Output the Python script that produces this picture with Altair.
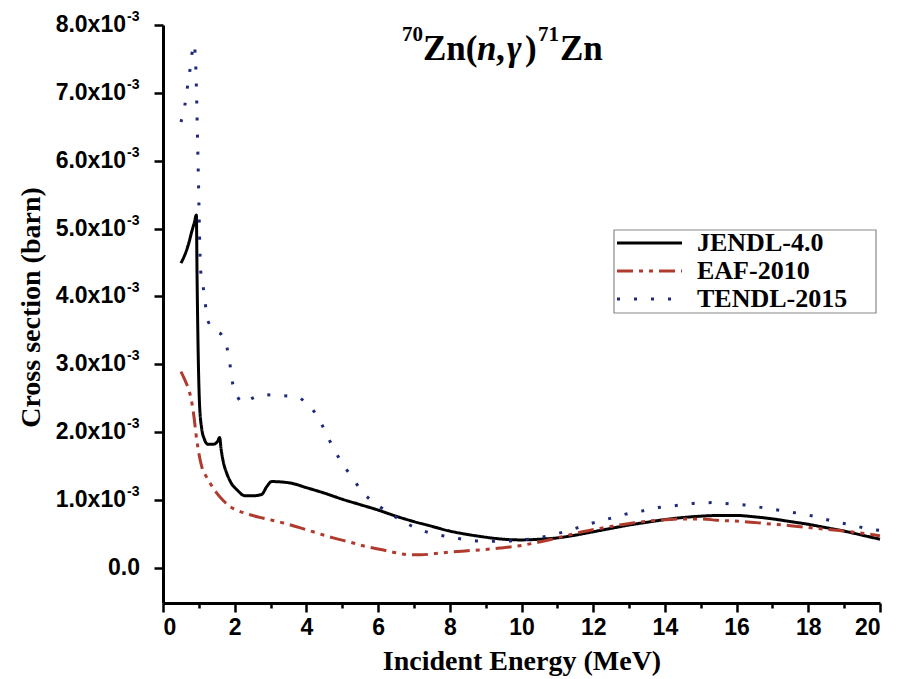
import altair as alt
import pandas as pd

# Cross section values in units of 1e-3 barn, energies in MeV
jendl_E = [0.5, 0.6, 0.7, 0.8, 0.88, 0.93, 0.95, 0.98, 1.02, 1.08, 1.15, 1.25, 1.4, 1.52, 1.58, 1.62,
           1.7, 1.78, 1.9, 2.06, 2.29, 2.5, 2.75, 2.9, 3.03, 3.54, 4.0, 4.5, 5.0, 5.5, 6.0, 6.5, 7.0,
           7.5, 8.0, 8.5, 9.0, 9.5, 10.0, 10.5, 11.0, 11.5, 12.0, 12.5, 13.0, 13.5, 14.0, 14.5, 15.0,
           15.5, 16.0, 16.5, 17.0, 17.5, 18.0, 18.5, 19.0, 19.5, 20.0]
jendl_s = [4.49, 4.6, 4.75, 4.95, 5.1, 5.2, 4.3, 3.2, 2.4, 2.05, 1.9, 1.82, 1.82, 1.86, 1.92, 1.75,
           1.52, 1.39, 1.25, 1.15, 1.06, 1.06, 1.08, 1.2, 1.27, 1.25, 1.18, 1.10, 1.01, 0.93, 0.85,
           0.76, 0.68, 0.61, 0.54, 0.49, 0.45, 0.42, 0.41, 0.42, 0.44, 0.48, 0.53, 0.58, 0.63, 0.67,
           0.71, 0.74, 0.76, 0.77, 0.77, 0.75, 0.72, 0.68, 0.64, 0.59, 0.54, 0.48, 0.42]

eaf_E = [0.5, 0.6, 0.7, 0.78, 0.85, 0.94, 1.08, 1.2, 1.31, 1.5, 1.7, 1.87, 2.1, 2.43, 2.8, 3.36, 4.0,
         4.75, 5.2, 5.68, 6.15, 6.5, 6.9, 7.2, 7.6, 8.0, 8.5, 9.0, 9.4, 9.9, 10.5, 11.0, 11.7, 12.4,
         13.1, 13.8, 14.5, 15.0, 15.45, 16.2, 16.84, 17.5, 18.23, 19.0, 19.63, 20.0]
eaf_s = [2.89, 2.78, 2.65, 2.5, 2.28, 1.89, 1.49, 1.35, 1.25, 1.1, 0.98, 0.9, 0.84, 0.78, 0.73, 0.66,
         0.56, 0.44, 0.38, 0.31, 0.26, 0.22, 0.19, 0.19, 0.21, 0.23, 0.25, 0.27, 0.29, 0.32, 0.38,
         0.44, 0.53, 0.6, 0.66, 0.70, 0.72, 0.72, 0.70, 0.68, 0.65, 0.62, 0.58, 0.54, 0.50, 0.47]

tendl_E = [0.5, 0.61, 0.68, 0.75, 0.83, 0.87, 0.9, 0.92, 0.94, 0.97, 1.0, 1.02, 1.05, 1.12, 1.26,
           1.45, 1.64, 1.82, 1.96, 2.1, 2.24, 2.5, 2.75, 3.2, 3.73, 3.95, 4.15, 4.43, 4.66, 4.94,
           5.26, 5.63, 6.1, 6.61, 7.08, 7.54, 8.05, 8.5, 9.03, 9.5, 10.0, 10.47, 10.98, 11.45,
           11.93, 12.42, 12.9, 13.4, 13.86, 14.36, 14.84, 15.32, 15.82, 16.3, 16.79, 17.27, 17.75,
           18.23, 18.72, 19.21, 19.69, 20.0]
tendl_s = [6.57, 6.82, 7.08, 7.33, 7.65, 7.72, 7.55, 7.3, 6.89, 6.16, 5.42, 4.88, 4.39, 4.14, 3.63,
           3.5, 3.43, 3.16, 2.67, 2.5, 2.43, 2.5, 2.55, 2.54, 2.52, 2.45, 2.35, 2.11, 1.86, 1.59,
           1.34, 1.08, 0.88, 0.71, 0.58, 0.50, 0.45, 0.41, 0.39, 0.39, 0.41, 0.44, 0.50, 0.57,
           0.65, 0.72, 0.79, 0.84, 0.89, 0.92, 0.95, 0.96, 0.94, 0.92, 0.88, 0.84, 0.80, 0.75,
           0.68, 0.63, 0.57, 0.55]

series_names = ["JENDL-4.0", "EAF-2010", "TENDL-2015"]
series_colors = ["#000000", "#b03a2e", "#1f2a7a"]
series_dash = [[1, 0], [16, 6, 4, 6, 4, 6], [3, 14]]

y_major = [0, 1, 2, 3, 4, 5, 6, 7, 8]
y_major_text = ["0.0", "1.0x10", "2.0x10", "3.0x10", "4.0x10", "5.0x10", "6.0x10", "7.0x10", "8.0x10"]

rows = []
for name, es, ss in [("JENDL-4.0", jendl_E, jendl_s), ("EAF-2010", eaf_E, eaf_s),
                     ("TENDL-2015", tendl_E, tendl_s)]:
    for e, s in zip(es, ss):
        rows.append({"series": name, "E": e, "sigma": s})
df = pd.DataFrame(rows)

W, H = 717, 578
serif = "Liberation Serif"
sans = "Liberation Sans"

x_scale = alt.Scale(domain=[0, 20], nice=False)
y_scale = alt.Scale(domain=[-0.52, 8.0], nice=False, zero=False)

x_axis = alt.Axis(
    values=list(range(0, 21)),
    labelExpr="datum.value % 2 == 0 ? datum.label : ''",
    format="d",
    tickSize={"condition": {"test": "datum.value % 2 != 0", "value": 5}, "value": 9},
    labelFont=sans, labelFontSize=23, labelFontWeight="bold", labelPadding=4,
    title="Incident Energy (MeV)", titleFont=serif, titleFontSize=28, titleFontWeight="bold",
    titleBaseline="alphabetic", titleY=66,
)
y_axis = alt.Axis(
    values=[i * 0.5 for i in range(0, 17)],
    labels=False,
    tickSize={"condition": {"test": "abs(datum.value - round(datum.value)) > 0.1", "value": 6}, "value": 9},
    title="Cross section (barn)", titleFont=serif, titleFontSize=28, titleFontWeight="bold",
    titleAngle=-90, titleX=-132, titleY=282, titleAlign="center", titleBaseline="middle",
)

lines = alt.Chart(df).mark_line(strokeWidth=3, interpolate="monotone").encode(
    x=alt.X("E:Q", scale=x_scale, axis=x_axis),
    y=alt.Y("sigma:Q", scale=y_scale, axis=y_axis),
    color=alt.Color("series:N", scale=alt.Scale(domain=series_names, range=series_colors), legend=None),
    strokeDash=alt.StrokeDash("series:N", scale=alt.Scale(domain=series_names, range=series_dash),
                              legend=None),
)

# y tick labels with superscript exponent
ylab_df = pd.DataFrame({"v": y_major, "t": y_major_text, "sup": ["" if v == 0 else "-3" for v in y_major]})
ylab_zero = alt.Chart(ylab_df).transform_filter("datum.v == 0").mark_text(
    font=sans, fontSize=23, fontWeight="bold", align="right", baseline="middle", color="black"
).encode(x=alt.value(-23), y=alt.Y("v:Q", scale=y_scale), text="t:N")
ylab_main = alt.Chart(ylab_df).transform_filter("datum.v != 0").mark_text(
    font=sans, fontSize=23, fontWeight="bold", align="right", baseline="middle", color="black"
).encode(x=alt.value(-37), y=alt.Y("v:Q", scale=y_scale), text="t:N")
ylab_sup = alt.Chart(ylab_df).transform_filter("datum.v != 0").mark_text(
    font=sans, fontSize=14, fontWeight="bold", align="left", baseline="alphabetic", color="black", dy=-4
).encode(x=alt.value(-36), y=alt.Y("v:Q", scale=y_scale), text="sup:N")


def txt(s, x, y, size, italic=False, align="left", baseline="alphabetic"):
    return alt.Chart(alt.Data(values=[{}])).mark_text(
        text=s, font=serif, fontSize=size, fontWeight="bold",
        fontStyle="italic" if italic else "normal",
        align=align, baseline=baseline, color="black",
    ).encode(x=alt.value(x), y=alt.value(y))


title_parts = [
    txt("70", 239, 16, 21), txt("Zn(", 260, 35, 35), txt("n", 314, 35, 35, True),
    txt(",", 333, 35, 35), txt("γ", 344, 35, 35, True), txt(")", 362, 35, 35),
    txt("71", 375, 16, 21), txt("Zn", 397, 35, 35),
]

# legend (box, sample lines, labels)
leg_x0, leg_x1, leg_y0, leg_y1 = 451, 713, 205, 288
leg_rows = [218, 246, 274]
legend_box = alt.Chart(alt.Data(values=[{}])).mark_rect(
    fill="white", stroke="#888888", strokeWidth=1.2
).encode(x=alt.value(leg_x0), x2=alt.value(leg_x1), y=alt.value(leg_y0), y2=alt.value(leg_y1))
legend_parts = [legend_box]
for name, col, dash, yy in zip(series_names, series_colors, series_dash, leg_rows):
    legend_parts.append(
        alt.Chart(alt.Data(values=[{}])).mark_rule(color=col, strokeWidth=3, strokeDash=dash).encode(
            x=alt.value(454), x2=alt.value(519), y=alt.value(yy))
    )
    legend_parts.append(txt(name, 534, yy, 26, baseline="middle"))

chart = alt.layer(lines, ylab_zero, ylab_main, ylab_sup, *legend_parts, *title_parts).properties(
    width=W, height=H,
    autosize=alt.AutoSizeParams(type="none"),
    padding={"left": 163, "top": 25, "right": 18, "bottom": 76},
).configure_view(stroke=None).configure_axis(
    grid=False, domainColor="black", domainWidth=3, tickColor="black", tickWidth=2.5,
    labelColor="black", titleColor="black",
)

chart.save("out.html", embed_options={"renderer": "svg", "actions": False})
